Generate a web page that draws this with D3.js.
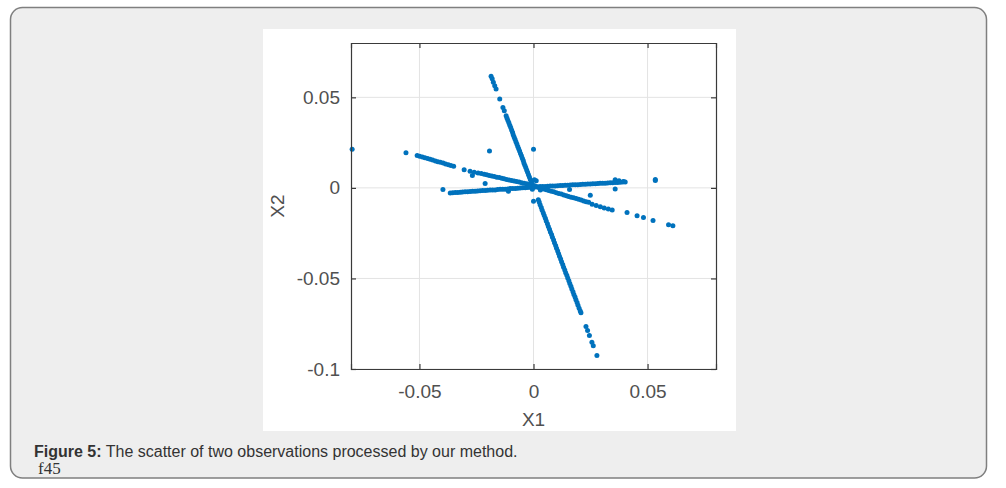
<!DOCTYPE html>
<html>
<head>
<meta charset="utf-8">
<script src="https://cdn.jsdelivr.net/npm/d3@7"></script>
<style>
  body { margin: 0; background: #fff; }
  svg { display: block; }
</style>
</head>
<body>
<svg id="fig" width="1006" height="488"></svg>
<script>
// tick values and labels
const xTicks = [-0.05, 0, 0.05];
const xTickLabels = ["-0.05", "0", "0.05"];
const yTicks = [-0.1, -0.05, 0, 0.05];
const yTickLabels = ["-0.1", "-0.05", "0", "0.05"];

// steep streak, upper half (x1, x2)
const steepUpper = [
  [-0.0186, 0.0617], [-0.0181, 0.0602], [-0.0176, 0.0583], [-0.0170, 0.0564], [-0.0164, 0.0546],
  [-0.0148, 0.0491], [-0.0134, 0.0444], [-0.0128, 0.0426],
  [-0.0120, 0.0398], [-0.0116, 0.0385], [-0.0112, 0.0372], [-0.0108, 0.0359], [-0.0104, 0.0346],
  [-0.0100, 0.0333], [-0.0096, 0.0320], [-0.0092, 0.0307], [-0.0089, 0.0294], [-0.0085, 0.0281],
  [-0.0081, 0.0268], [-0.0077, 0.0255], [-0.0073, 0.0242], [-0.0069, 0.0229], [-0.0065, 0.0216],
  [-0.0061, 0.0203], [-0.0057, 0.0190], [-0.0053, 0.0177], [-0.0049, 0.0164], [-0.0045, 0.0151],
  [-0.0042, 0.0138], [-0.0038, 0.0125], [-0.0034, 0.0112], [-0.0030, 0.0099], [-0.0026, 0.0086],
  [-0.0022, 0.0073], [-0.0018, 0.0060], [-0.0014, 0.0047], [-0.0010, 0.0034], [-0.0006, 0.0021]
];

// steep streak, lower half
const steepLower = [
  [0.0021, -0.0065], [0.0025, -0.0078], [0.0029, -0.0093], [0.0034, -0.0108], [0.0038, -0.0123],
  [0.0043, -0.0138], [0.0047, -0.0153], [0.0052, -0.0168], [0.0056, -0.0183], [0.0061, -0.0198],
  [0.0065, -0.0213], [0.0070, -0.0228], [0.0074, -0.0243], [0.0079, -0.0258], [0.0083, -0.0273],
  [0.0088, -0.0288], [0.0092, -0.0303], [0.0097, -0.0318], [0.0101, -0.0333], [0.0106, -0.0348],
  [0.0110, -0.0363], [0.0114, -0.0378], [0.0119, -0.0393], [0.0123, -0.0408], [0.0128, -0.0423],
  [0.0132, -0.0438], [0.0137, -0.0453], [0.0141, -0.0468], [0.0146, -0.0483], [0.0150, -0.0498],
  [0.0155, -0.0513], [0.0159, -0.0528], [0.0164, -0.0543], [0.0168, -0.0558], [0.0173, -0.0573],
  [0.0177, -0.0588], [0.0182, -0.0603], [0.0186, -0.0618], [0.0191, -0.0633], [0.0195, -0.0648],
  [0.0200, -0.0665], [0.0205, -0.0680], [0.0208, -0.0690],
  [0.0230, -0.0766], [0.0237, -0.0788], [0.0245, -0.0815], [0.0256, -0.0852], [0.0262, -0.0871],
  [0.0278, -0.0926]
];

// falling shallow streak
const shallowFall = [
  [-0.0559, 0.0194],
  [-0.0510, 0.0179], [-0.0499, 0.0175], [-0.0487, 0.0171], [-0.0476, 0.0167], [-0.0464, 0.0162],
  [-0.0453, 0.0158], [-0.0442, 0.0154], [-0.0430, 0.0149], [-0.0419, 0.0145], [-0.0408, 0.0141],
  [-0.0396, 0.0137], [-0.0385, 0.0132], [-0.0373, 0.0128], [-0.0362, 0.0124], [-0.0350, 0.0119],
  [-0.0304, 0.0100], [-0.0278, 0.0092], [-0.0260, 0.0087], [-0.0243, 0.0082], [-0.0229, 0.0079],
  [-0.0216, 0.0075], [-0.0205, 0.0072], [-0.0194, 0.0069], [-0.0183, 0.0066], [-0.0172, 0.0063],
  [-0.0161, 0.0059], [-0.0150, 0.0057], [-0.0139, 0.0053], [-0.0129, 0.0051], [-0.0118, 0.0047],
  [-0.0107, 0.0044], [-0.0096, 0.0041], [-0.0085, 0.0038], [-0.0074, 0.0035], [-0.0063, 0.0032],
  [-0.0052, 0.0029], [-0.0041, 0.0026], [-0.0030, 0.0023], [-0.0019, 0.0019], [-0.0008, 0.0016],
  [0.0012, 0.0006], [0.0023, 0.0002], [0.0034, -0.0002], [0.0045, -0.0006], [0.0056, -0.0010],
  [0.0067, -0.0014], [0.0078, -0.0018], [0.0089, -0.0022], [0.0100, -0.0027], [0.0111, -0.0031],
  [0.0122, -0.0034], [0.0133, -0.0039], [0.0144, -0.0043], [0.0154, -0.0047], [0.0165, -0.0051],
  [0.0176, -0.0055], [0.0187, -0.0059], [0.0198, -0.0063], [0.0209, -0.0067], [0.0220, -0.0072],
  [0.0231, -0.0076], [0.0242, -0.0079],
  [0.0257, -0.0090], [0.0275, -0.0097], [0.0293, -0.0104], [0.0310, -0.0111], [0.0328, -0.0117],
  [0.0345, -0.0122],
  [0.0410, -0.0136], [0.0454, -0.0154], [0.0482, -0.0163], [0.0524, -0.0180], [0.0592, -0.0204],
  [0.0611, -0.0209]
];

// nearly flat streak
const flatRise = [
  [-0.0365, -0.0028], [-0.0354, -0.0027], [-0.0343, -0.0026], [-0.0332, -0.0025], [-0.0321, -0.0024],
  [-0.0311, -0.0023], [-0.0300, -0.0022], [-0.0289, -0.0021], [-0.0278, -0.0020], [-0.0267, -0.0019],
  [-0.0256, -0.0018], [-0.0245, -0.0017], [-0.0234, -0.0016], [-0.0223, -0.0015], [-0.0212, -0.0014],
  [-0.0201, -0.0013], [-0.0190, -0.0012], [-0.0179, -0.0011], [-0.0168, -0.0011], [-0.0157, -0.0009],
  [-0.0146, -0.0008], [-0.0135, -0.0007], [-0.0124, -0.0007], [-0.0113, -0.0006], [-0.0102, -0.0004],
  [-0.0091, -0.0003], [-0.0080, -0.0003], [-0.0069, -0.0002], [-0.0058, -0.0001], [-0.0047, 0.0001],
  [-0.0036, 0.0001], [-0.0025, 0.0002], [-0.0014, 0.0003],
  [0.0007, 0.0005], [0.0018, 0.0006], [0.0029, 0.0007], [0.0040, 0.0007], [0.0051, 0.0008],
  [0.0062, 0.0009], [0.0073, 0.0010], [0.0084, 0.0010], [0.0095, 0.0011], [0.0106, 0.0012],
  [0.0117, 0.0013], [0.0128, 0.0013], [0.0139, 0.0014], [0.0150, 0.0015], [0.0161, 0.0016],
  [0.0172, 0.0017], [0.0183, 0.0017], [0.0194, 0.0018], [0.0205, 0.0019], [0.0216, 0.0020],
  [0.0227, 0.0020], [0.0238, 0.0021], [0.0249, 0.0022], [0.0260, 0.0023], [0.0271, 0.0023],
  [0.0282, 0.0024], [0.0292, 0.0025], [0.0303, 0.0026], [0.0314, 0.0026], [0.0325, 0.0027],
  [0.0336, 0.0028], [0.0347, 0.0029], [0.0358, 0.0030], [0.0369, 0.0030], [0.0380, 0.0031],
  [0.0391, 0.0032], [0.0402, 0.0033],
  [0.0358, 0.0045], [0.0375, 0.0040], [0.0395, 0.0035]
];

// stray points
const strays = [
  [-0.0795, 0.0213], [-0.0193, 0.0203], [0.0000, 0.0214], [0.0534, 0.0046], [0.0534, 0.0041],
  [-0.0397, -0.0009], [-0.0212, 0.0024], [-0.0268, 0.0068], [0.0358, -0.0006], [0.0158, -0.0009],
  [0.0249, -0.0041], [0.0000, -0.0074], [-0.0110, -0.0019], [0.0004, 0.0045], [0.0012, 0.0040],
  [0.0005, 0.0012], [-0.0005, -0.0008], [0.0030, -0.0012], [0.0060, -0.0008], [-0.0020, 0.0008]
];

const svg = d3.select("#fig");

// page frame
svg.append("rect")
  .attr("x", 10.5).attr("y", 7.5)
  .attr("width", 976).attr("height", 470.5)
  .attr("rx", 12)
  .attr("fill", "#eeeeee")
  .attr("stroke", "#7f7f7f")
  .attr("stroke-width", 1.5);

// white picture area
svg.append("rect")
  .attr("x", 263).attr("y", 29)
  .attr("width", 473).attr("height", 402)
  .attr("fill", "#ffffff");

const plotLeft = 351, plotRight = 716, plotTop = 43, plotBottom = 369;

const x = d3.scaleLinear().domain([-0.08, 0.08]).range([plotLeft, plotRight]);
const y = d3.scaleLinear().domain([-0.1, 0.08]).range([plotBottom, plotTop]);

// grid
const grid = svg.append("g");
grid.selectAll("line.gx").data(xTicks).enter().append("line")
  .attr("class", "gx")
  .attr("x1", d => x(d)).attr("x2", d => x(d))
  .attr("y1", plotTop).attr("y2", plotBottom)
  .attr("stroke", "#e3e3e3").attr("stroke-width", 1);
grid.selectAll("line.gy").data(yTicks).enter().append("line")
  .attr("class", "gy")
  .attr("x1", plotLeft).attr("x2", plotRight)
  .attr("y1", d => y(d)).attr("y2", d => y(d))
  .attr("stroke", "#e3e3e3").attr("stroke-width", 1);

// points
const allPoints = [].concat(steepUpper, steepLower, shallowFall, flatRise, strays);
svg.append("g")
  .selectAll("circle")
  .data(allPoints)
  .enter().append("circle")
  .attr("cx", d => x(d[0]))
  .attr("cy", d => y(d[1]))
  .attr("r", 2.5)
  .attr("fill", "#0072BD");

// axes, ticks pointing inward like MATLAB
const axisColor = "#3a3a3a";
const labelColor = "#505050";
const font = "'Liberation Sans', Arial, sans-serif";

const xAxis = svg.append("g")
  .attr("transform", `translate(0,${plotBottom})`)
  .call(d3.axisBottom(x).tickValues(xTicks).tickSize(-5).tickPadding(16)
    .tickFormat((d, i) => xTickLabels[i]));
const xTopAxis = svg.append("g")
  .attr("transform", `translate(0,${plotTop})`)
  .call(d3.axisTop(x).tickValues(xTicks).tickSize(-5).tickFormat(""));
const yAxis = svg.append("g")
  .attr("transform", `translate(${plotLeft},0)`)
  .call(d3.axisLeft(y).tickValues(yTicks).tickSize(-5).tickPadding(11)
    .tickFormat((d, i) => yTickLabels[i]));
const yRightAxis = svg.append("g")
  .attr("transform", `translate(${plotRight},0)`)
  .call(d3.axisRight(y).tickValues(yTicks).tickSize(-5).tickFormat(""));

[xAxis, xTopAxis, yAxis, yRightAxis].forEach(g => {
  g.select(".domain").attr("stroke", axisColor).attr("stroke-width", 1.2);
  g.selectAll(".tick line").attr("stroke", axisColor).attr("stroke-width", 1.2);
  g.selectAll(".tick text")
    .attr("fill", labelColor)
    .style("font-family", font)
    .style("font-size", "19px");
});

// axis labels
svg.append("text")
  .attr("x", (plotLeft + plotRight) / 2).attr("y", 426)
  .attr("text-anchor", "middle")
  .attr("fill", labelColor)
  .style("font-family", font).style("font-size", "19px")
  .text("X1");

svg.append("text")
  .attr("transform", `translate(284,${(plotTop + plotBottom) / 2}) rotate(-90)`)
  .attr("text-anchor", "middle")
  .attr("fill", labelColor)
  .style("font-family", font).style("font-size", "19px")
  .text("X2");

// caption
const cap = svg.append("text")
  .attr("x", 34).attr("y", 457)
  .attr("fill", "#333333")
  .style("font-family", font).style("font-size", "16px");
cap.append("tspan").style("font-weight", "bold").text("Figure 5:");
cap.append("tspan").text(" The scatter of two observations processed by our method.");

svg.append("text")
  .attr("x", 38).attr("y", 474)
  .attr("fill", "#333333")
  .style("font-family", "'Liberation Serif', 'Times New Roman', serif")
  .style("font-size", "17px")
  .text("f45");
</script>
</body>
</html>
